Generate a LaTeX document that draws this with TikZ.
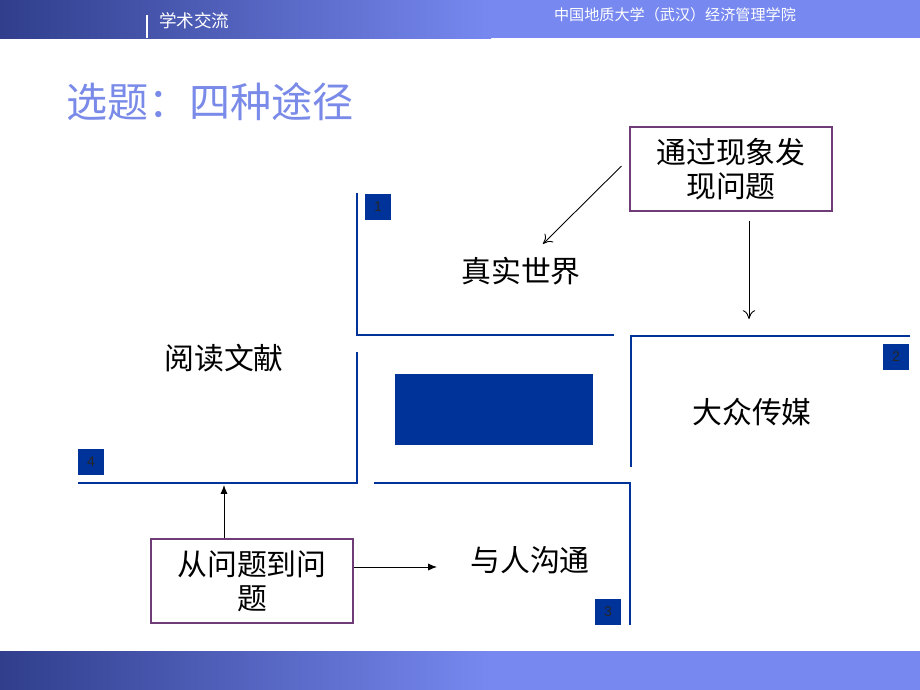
\documentclass[tikz,border=0pt]{standalone}
\usepackage{fontspec}
\setmainfont{Noto Sans CJK SC}
\newfontfamily\cjk{Noto Sans CJK SC}
\newfontfamily\numfont{Liberation Sans}
\usepackage{tikz}
\usetikzlibrary{arrows.meta,positioning,calc}
\definecolor{lineblue}{RGB}{0,51,153}
\definecolor{bandlight}{RGB}{119,136,240}
\definecolor{banddark}{RGB}{48,62,140}
\definecolor{titleblue}{RGB}{122,138,232}
\definecolor{boxpurple}{RGB}{112,60,120}

\begin{document}
\begin{tikzpicture}[x=0.02cm, y=-0.02cm,
    frame/.style={lineblue, line width=1.6pt},
    numbox/.style={fill=lineblue, minimum size=14.6pt, inner sep=0pt, text=black!85, font=\numfont\fontsize{8}{9}\selectfont},
    way/.style={font=\cjk\fontsize{17}{19.3}\selectfont},
    askbox/.style={draw=boxpurple, line width=0.6pt, minimum width=4.04cm, minimum height=1.68cm, align=center, inner sep=0pt, font=\cjk\fontsize{17}{19.3}\selectfont}]

    \useasboundingbox (0,0) rectangle (920,690);

    % Banners
    \shade[left color=banddark, right color=bandlight] (0,0) rectangle (491,38);
    \fill[bandlight] (490,0) rectangle (920,38);
    \shade[left color=banddark, right color=bandlight] (0,651) rectangle (491,690);
    \fill[bandlight] (490,651) rectangle (920,690);
    \draw[white, line width=0.6pt] (147,15) -- (147,38);
    \node[white, anchor=west, font=\cjk\fontsize{10}{12}\selectfont] (club) at (153,21) {学术交流};
    \node[white, font=\cjk\fontsize{8.6}{10}\selectfont] (school) at (675,15) {中国地质大学（武汉）经济管理学院};

    % Title
    \node[titleblue, anchor=west, font=\cjk\fontsize{23.4}{26}\selectfont] (title) at (60,102) {选题：四种途径};

    % Quadrant frames
    \draw[frame] (357,193) -- (357,335) -- (614,335);
    \draw[frame] (357,352) -- (357,483) -- (78,483);
    \draw[frame] (374,483) -- (630,483) -- (630,625);
    \draw[frame] (910,336) -- (631,336) -- (631,467);
    \fill[lineblue] (395,374) rectangle (593,445);

    % Numbers
    \node[numbox] (n1) at (378,207) {1};
    \node[numbox] (n2) at (896,357) {2};
    \node[numbox] (n3) at (608,612) {3};
    \node[numbox] (n4) at (91,462) {4};

    % Four ways
    \node[way] (real) at (521,271) {真实世界};
    \node[way] (media) at (752,412) {大众传媒};
    \node[way] (talk) at (530,560) {与人沟通};
    \node[way] (read) at (224,358) {阅读文献};

    % Starting points
    \node[askbox] (find) at (731,169) {通过现象发\\现问题};
    \node[askbox] (chain) at (252,581) {从问题到问\\题};

    % Arrows
    \coordinate (mediatop) at (749,319);
    \draw[-{To[length=5pt,width=7pt]}, line width=0.5pt] ($(find.west)+(-8,-3)$) -- ($(real.north)+(22,-7)$);
    \draw[-{To[length=5pt,width=7pt]}, line width=0.5pt] ($(find.south)+(18,9)$) -- (mediatop);
    \draw[-{Latex[length=5pt,width=4pt]}, line width=0.5pt] (chain.north -| read) -- (read |- 0,485);
    \draw[-{Latex[length=5pt,width=4pt]}, line width=0.5pt] (chain.east |- 0,567) -- (437,567);

\end{tikzpicture}
\end{document}
